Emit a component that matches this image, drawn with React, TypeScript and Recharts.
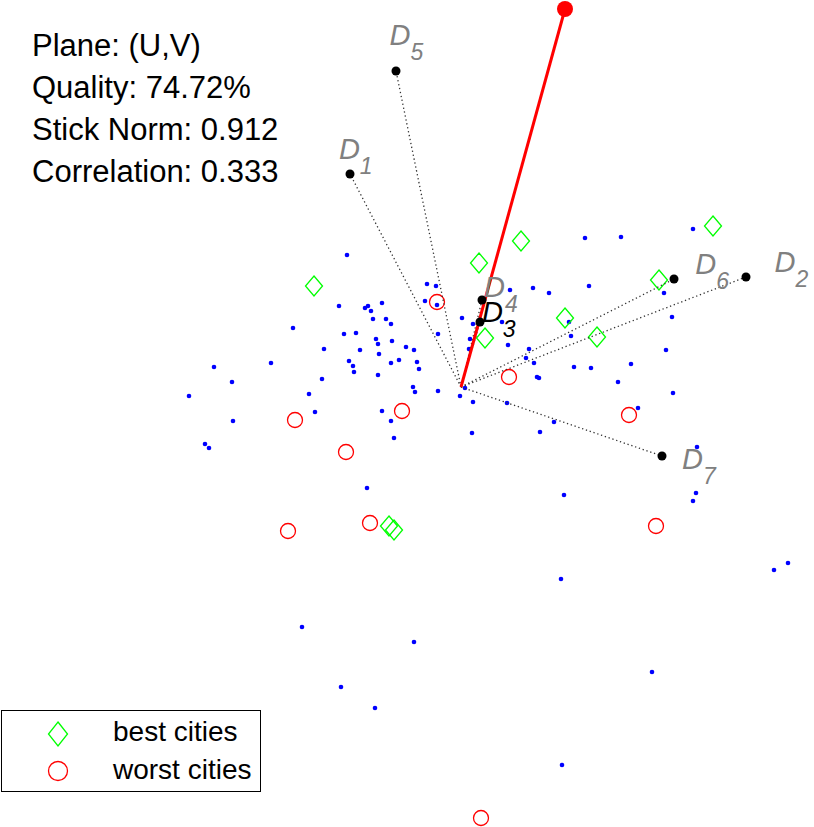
import React from 'react';
import { Scatter, ScatterChart, XAxis, YAxis } from 'recharts';

const WIDTH = 814;
const HEIGHT = 827;
const FONT = '"Liberation Sans", Arial, Helvetica, sans-serif';

// GAIA plane coordinates (U, V)
const cityPoints: [number, number][] = [
  [-1.14, 1.32], [-1.22, 0.81], [-0.96, 0.79], [-0.93, 0.81], [-0.79, 0.84],
  [-0.9, 0.76], [-0.88, 0.68], [-0.75, 0.68], [-0.7, 0.63], [-1.68, 0.59],
  [-1.17, 0.53], [-1.05, 0.54], [-0.85, 0.48], [-0.83, 0.43], [-0.69, 0.46],
  [-0.55, 0.4], [-1.37, 0.38], [-1.01, 0.37], [-0.82, 0.33], [-1.12, 0.26],
  [-1.08, 0.21], [-1.07, 0.15], [-0.62, 0.27], [-0.7, 0.24], [-2.47, 0.2],
  [-1.9, 0.24], [-2.29, 0.05], [-1.39, 0.08], [-0.83, 0.12], [-2.72, -0.09],
  [-1.52, -0.07], [-1.46, -0.25], [-0.79, -0.24], [-2.28, -0.34], [-0.7, -0.34],
  [-0.47, 0.37], [-0.44, 0.25], [-0.42, 0.18], [-0.48, 0.0], [-0.46, -0.05],
  [-0.23, -0.04], [-0.01, -0.09], [-0.34, 1.03], [-0.25, 1.01], [-0.36, 0.86],
  [-0.24, 0.82], [0.01, 0.69], [-0.23, 0.53], [0.12, 0.63], [0.08, 0.38],
  [0.09, 0.48], [0.49, 0.97], [0.72, 0.99], [0.41, 0.65], [0.47, 0.42],
  [0.68, 0.38], [0.88, 0.94], [1.28, 1.01], [1.24, 1.49], [1.6, 1.5],
  [2.32, 1.58], [2.03, 0.94], [2.11, 0.7], [1.08, 0.65], [1.1, 0.51],
  [0.65, 0.29], [0.73, 0.24], [0.76, 0.1], [0.78, 0.09], [1.13, 0.2],
  [1.3, 0.19], [1.7, 0.23], [2.05, 0.37], [1.57, 0.05], [2.12, -0.06],
  [0.04, -0.01], [0.12, -0.15], [0.46, -0.16], [1.77, -0.21], [-0.67, -0.51],
  [0.11, -0.46], [0.79, -0.45], [0.93, -0.35], [2.36, -0.6], [-2.56, -0.57],
  [-2.52, -0.61], [-0.94, -1.01], [-1.59, -2.4], [-1.2, -3.0], [-0.86, -3.21],
  [-0.47, -2.55], [1.03, -1.08], [2.35, -1.06], [2.32, -1.14], [3.27, -1.76],
  [3.13, -1.83], [1.0, -1.92], [1.91, -2.85], [1.01, -3.78],
];

const bestPoints: [number, number][] = [
  [-1.47, 1.01], [0.18, 1.24], [0.6, 1.46], [2.52, 1.61], [1.98, 1.07],
  [0.24, 0.49], [1.04, 0.69], [1.36, 0.5], [-0.72, -1.39], [-0.67, -1.43],
];

const worstPoints: [number, number][] = [
  [-0.24, 0.85], [0.48, 0.1], [-0.59, -0.24], [-1.66, -0.33], [-1.15, -0.65],
  [1.68, -0.28], [-1.73, -1.44], [-0.91, -1.36], [1.95, -1.39], [0.2, -4.31],
];

// criteria axes D1..D7
const criteriaNames = ['1', '2', '3', '4', '5', '6', '7'];
const criteriaU = [-1.11, 2.85, 0.19, 0.21, -0.65, 2.13, 2.01];
const criteriaV = [2.13, 1.1, 0.65, 0.87, 3.16, 1.08, -0.69];

const stickU = 1.04;
const stickV = 3.78;

const planeInfo = ['Plane: (U,V)', 'Quality: 74.72%', 'Stick Norm: 0.912', 'Correlation: 0.333'];
const legendItems = ['best cities', 'worst cities'];

const toXY = (pts: [number, number][]) => pts.map(([x, y]) => ({ x, y }));

const cities = toXY(cityPoints);
const bestCities = toXY(bestPoints);
const worstCities = toXY(worstPoints);
const criteria = criteriaNames.map((name, i) => ({ name, x: criteriaU[i], y: criteriaV[i] }));
const criteriaLabels = criteria.map((c) => ({ name: c.name, x: c.x * 1.1, y: c.y * 1.1 }));
const stick = [
  { x: 0, y: 0, end: false },
  { x: stickU, y: stickV, end: true },
];

const CityDot = ({ cx, cy }: any) => <circle cx={cx} cy={cy} r={2.3} fill="#0000ff" />;

const diamondPath = (cx: number, cy: number, hw: number, hh: number) =>
  `M${cx},${cy - hh}L${cx + hw},${cy}L${cx},${cy + hh}L${cx - hw},${cy}Z`;

const BestMarker = ({ cx, cy }: any) => (
  <path d={diamondPath(cx, cy, 8.5, 10)} fill="none" stroke="#00ff00" strokeWidth={1.3} />
);

const WorstMarker = ({ cx, cy }: any) => (
  <circle cx={cx} cy={cy} r={7.5} fill="none" stroke="#ff0000" strokeWidth={1.3} />
);

const CriterionDot = ({ cx, cy }: any) => <circle cx={cx} cy={cy} r={4.5} fill="#000" />;

const CriterionLabel = ({ cx, cy, payload }: any) => (
  <text
    x={cx}
    y={cy + 6}
    fill={payload.name === '3' ? '#000' : '#808080'}
    fontStyle="italic"
    fontFamily={FONT}
  >
    <tspan fontSize={29}>D</tspan>
    <tspan fontSize={23} dy={15}>
      {payload.name}
    </tspan>
  </text>
);

const StickEnd = ({ cx, cy, payload }: any) =>
  payload.end ? <circle cx={cx} cy={cy} r={8} fill="#ff0000" /> : <g />;

const Nothing = () => <g />;

const PlaneInfo = () => (
  <div
    style={{
      position: 'absolute',
      left: 32,
      top: 25,
      fontFamily: FONT,
      fontSize: 31,
      lineHeight: '42px',
      color: '#000',
      whiteSpace: 'nowrap',
    }}
  >
    {planeInfo.map((line) => (
      <div key={line}>{line}</div>
    ))}
  </div>
);

const CitiesLegend = () => (
  <div
    style={{
      position: 'absolute',
      left: 1,
      top: 710,
      width: 260,
      height: 82,
      boxSizing: 'border-box',
      border: '1px solid #000',
      background: '#fff',
    }}
  >
    <svg width={100} height={80} style={{ position: 'absolute', left: 0, top: 0 }}>
      <path d={diamondPath(56, 23, 9.5, 12)} fill="none" stroke="#00ff00" strokeWidth={1.3} />
      <circle cx={56} cy={60} r={9.5} fill="none" stroke="#ff0000" strokeWidth={1.3} />
    </svg>
    <div
      style={{
        position: 'absolute',
        left: 111,
        top: 2,
        fontFamily: FONT,
        fontSize: 28,
        lineHeight: '38px',
        color: '#000',
        whiteSpace: 'nowrap',
      }}
    >
      {legendItems.map((item) => (
        <div key={item}>{item}</div>
      ))}
    </div>
  </div>
);

export default function App() {
  return (
    <div style={{ position: 'absolute', left: 0, top: 0, width: WIDTH, height: HEIGHT, background: '#fff' }}>
      <ScatterChart width={WIDTH} height={HEIGHT} margin={{ top: 0, right: 0, bottom: 0, left: 0 }}>
        <XAxis type="number" dataKey="x" domain={[-4.61, 3.53]} allowDataOverflow hide />
        <YAxis type="number" dataKey="y" domain={[-4.4, 3.87]} allowDataOverflow hide />
        <Scatter data={cities} shape={CityDot} isAnimationActive={false} />
        <Scatter data={bestCities} shape={BestMarker} isAnimationActive={false} />
        <Scatter data={worstCities} shape={WorstMarker} isAnimationActive={false} />
        {criteria.map((c) => (
          <Scatter
            key={c.name}
            data={[{ x: 0, y: 0 }, { x: c.x, y: c.y }]}
            line={{ stroke: '#333333', strokeWidth: 1.3, strokeDasharray: '1.3 2.7' }}
            shape={Nothing}
            isAnimationActive={false}
          />
        ))}
        <Scatter
          data={stick}
          line={{ stroke: '#ff0000', strokeWidth: 3 }}
          shape={StickEnd}
          isAnimationActive={false}
        />
        <Scatter data={criteria} shape={CriterionDot} isAnimationActive={false} />
        <Scatter data={criteriaLabels} shape={CriterionLabel} isAnimationActive={false} />
      </ScatterChart>
      <PlaneInfo />
      <CitiesLegend />
    </div>
  );
}
